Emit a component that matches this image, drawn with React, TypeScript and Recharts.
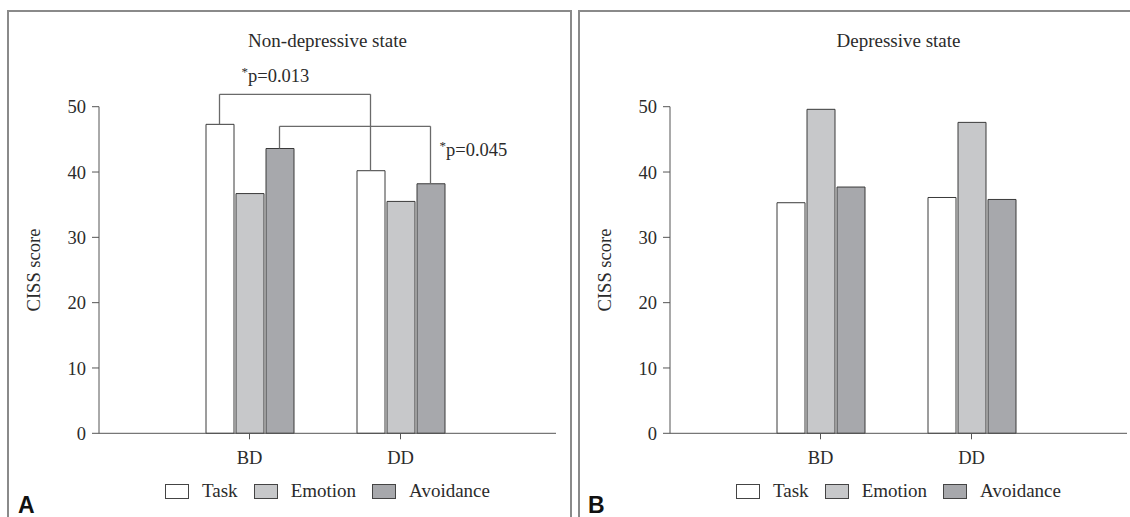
import { BarChart, Bar, XAxis, YAxis, Legend, ReferenceLine } from 'recharts'

const groups = ['BD', 'DD']
const seriesNames = ['Task', 'Emotion', 'Avoidance']

// Non-depressive state (panel A)
const nonDepTask = [47.3, 40.2]
const nonDepEmotion = [36.7, 35.5]
const nonDepAvoidance = [43.6, 38.2]

// Depressive state (panel B)
const depTask = [35.3, 36.1]
const depEmotion = [49.6, 47.6]
const depAvoidance = [37.7, 35.8]

const yTicks = [0, 10, 20, 30, 40, 50]

// significance brackets (panel A only)
const pTask = '0.013'
const pAvoidance = '0.045'
const bracketTopTask = 51.9
const bracketTopAvoidance = 47.0

const SERIF = '"Liberation Serif", "DejaVu Serif", serif'
const SANS = '"Liberation Sans", Arial, sans-serif'
const FILLS = ['#ffffff', '#c7c8ca', '#a7a8ac']
const BAR_STROKE = '#3a3a3a'
const AXIS = '#555'
const BRACKET = '#6a6a6a'
const TEXT = '#2b2b2b'
const BAR_SIZE = 28
const BAR_GAP = 2
const STEP = BAR_SIZE + BAR_GAP

function buildRows(task: number[], emotion: number[], avoidance: number[]) {
  return groups.map((g, i) => ({ group: g, Task: task[i], Emotion: emotion[i], Avoidance: avoidance[i] }))
}

type Bracket = {
  from: string
  to: string
  dx: number
  fromValue: number
  toValue: number
  top: number
  p: string
  labelAt: 'left' | 'right'
}

function PLabel({ x, y, p }: { x: number; y: number; p: string }) {
  return (
    <text x={x} y={y} fill={TEXT} fontFamily={SERIF} fontSize={18.5}>
      <tspan fontSize={13} dy={-6}>*</tspan>
      <tspan dy={6}>p={p}</tspan>
    </text>
  )
}

function bracketLines(b: Bracket, key: string) {
  const seg = (k: string, p1: any, p2: any, label?: (l: any) => any) => (
    <ReferenceLine
      key={key + k}
      segment={[p1, p2]}
      ifOverflow="visible"
      shape={(l: any) => (
        <g>
          <line x1={l.x1 + b.dx} y1={l.y1} x2={l.x2 + b.dx} y2={l.y2} stroke={BRACKET} strokeWidth={1.3} />
          {label ? label(l) : null}
        </g>
      )}
    />
  )
  return [
    seg('a', { x: b.from, y: b.fromValue }, { x: b.from, y: b.top }),
    seg('b', { x: b.from, y: b.top }, { x: b.to, y: b.top }, (l) =>
      b.labelAt === 'left' ? (
        <PLabel x={l.x1 + b.dx + 22} y={l.y1 - 12} p={b.p} />
      ) : (
        <PLabel x={l.x2 + b.dx + 9} y={l.y1 + 30} p={b.p} />
      )
    ),
    seg('c', { x: b.to, y: b.top }, { x: b.to, y: b.toValue }),
  ]
}

function YLabel(props: any) {
  const vb = props.viewBox || { x: 0, y: 0, width: 0, height: 0 }
  const cx = vb.x + 5.5
  const cy = vb.y + vb.height / 2
  return (
    <text
      x={cx}
      y={cy}
      transform={`rotate(-90, ${cx}, ${cy})`}
      textAnchor="middle"
      fill={TEXT}
      fontFamily={SERIF}
      fontSize={18.5}
    >
      CISS score
    </text>
  )
}

function LegendContent(props: any) {
  const payload = [...(props.payload || [])].sort(
    (a: any, b: any) => seriesNames.indexOf(a.value) - seriesNames.indexOf(b.value)
  )
  return (
    <div
      style={{
        display: 'flex',
        justifyContent: 'center',
        alignItems: 'center',
        height: 20,
        fontFamily: SERIF,
        fontSize: 19,
        lineHeight: '20px',
        color: TEXT,
      }}
    >
      {payload.map((entry: any, i: number) => (
        <span key={entry.value} style={{ display: 'flex', alignItems: 'center', marginLeft: i ? 16 : 0 }}>
          <span
            style={{
              display: 'inline-block',
              width: 22,
              height: 13,
              border: '1px solid #444',
              background: entry.color,
              marginRight: 13,
            }}
          />
          {entry.value}
        </span>
      ))}
    </div>
  )
}

interface PanelProps {
  left: number
  title: string
  letter: string
  rows: any[]
  brackets: Bracket[]
}

const tickStyle = { fill: TEXT, fontSize: 18.5, fontFamily: SERIF }

function Panel({ left, title, letter, rows, brackets }: PanelProps) {
  return (
    <div style={{ position: 'absolute', left, top: 0, width: 565, height: 517, fontFamily: SERIF }}>
      <div
        style={{
          position: 'absolute',
          left: 99,
          width: 457,
          top: 31,
          textAlign: 'center',
          fontFamily: SERIF,
          fontSize: 19,
          lineHeight: '19px',
          color: TEXT,
        }}
      >
        {title}
      </div>
      <BarChart
        width={565}
        height={517}
        data={rows}
        barSize={BAR_SIZE}
        barGap={BAR_GAP}
        style={{ fontFamily: SERIF }}
        margin={{ top: 106.7, right: 9, bottom: 33.7, left: 34 }}
      >
        <XAxis
          dataKey="group"
          height={30}
          padding={{ left: 75, right: 80 }}
          stroke={AXIS}
          tickSize={6}
          tickMargin={12}
          tick={tickStyle}
          fontFamily={SERIF}
        />
        <YAxis
          width={65}
          domain={[0, 50]}
          ticks={yTicks}
          stroke={AXIS}
          tickSize={7}
          tickMargin={6}
          tick={tickStyle}
          fontFamily={SERIF}
          label={<YLabel />}
        />
        <Legend
          verticalAlign="bottom"
          content={<LegendContent />}
          wrapperStyle={{ top: 481, left: 99, width: 457, height: 20 }}
        />
        {seriesNames.map((name, i) => (
          <Bar
            key={name}
            dataKey={name}
            fill={FILLS[i]}
            stroke={BAR_STROKE}
            strokeWidth={1}
            isAnimationActive={false}
          />
        ))}
        {brackets.flatMap((b, i) => bracketLines(b, 'br' + i))}
      </BarChart>
      <div
        style={{
          position: 'absolute',
          left: letter === 'A' ? 18 : 17,
          top: 493.5,
          fontFamily: SANS,
          fontWeight: 'bold',
          fontSize: 23,
          lineHeight: '23px',
          color: '#111',
        }}
      >
        {letter}
      </div>
    </div>
  )
}

const bracketsA: Bracket[] = [
  {
    from: groups[0],
    to: groups[1],
    dx: -STEP,
    fromValue: nonDepTask[0],
    toValue: nonDepTask[1],
    top: bracketTopTask,
    p: pTask,
    labelAt: 'left',
  },
  {
    from: groups[0],
    to: groups[1],
    dx: STEP,
    fromValue: nonDepAvoidance[0],
    toValue: nonDepAvoidance[1],
    top: bracketTopAvoidance,
    p: pAvoidance,
    labelAt: 'right',
  },
]

export default function App() {
  return (
    <div
      style={{
        position: 'absolute',
        left: 0,
        top: 0,
        width: 1130,
        height: 517,
        background: '#fff',
        overflow: 'hidden',
        fontFamily: SERIF,
      }}
    >
      <div
        style={{
          position: 'absolute',
          left: 7,
          top: 10,
          width: 561,
          height: 520,
          borderLeft: '2px solid #8a8a8a',
          borderTop: '2px solid #8a8a8a',
          borderRight: '2px solid #8a8a8a',
        }}
      />
      <div
        style={{
          position: 'absolute',
          left: 578,
          top: 10,
          width: 600,
          height: 520,
          borderLeft: '2px solid #8a8a8a',
          borderTop: '2px solid #8a8a8a',
        }}
      />
      <Panel
        left={0}
        title="Non-depressive state"
        letter="A"
        rows={buildRows(nonDepTask, nonDepEmotion, nonDepAvoidance)}
        brackets={bracketsA}
      />
      <Panel
        left={571}
        title="Depressive state"
        letter="B"
        rows={buildRows(depTask, depEmotion, depAvoidance)}
        brackets={[]}
      />
    </div>
  )
}
